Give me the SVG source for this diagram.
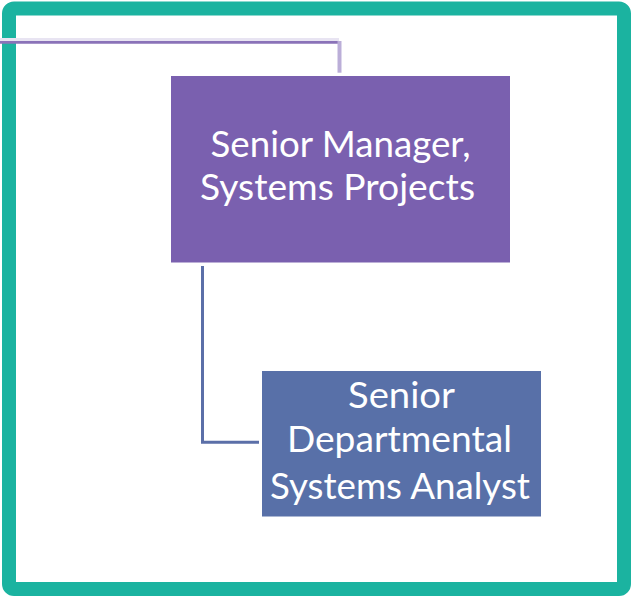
<svg xmlns="http://www.w3.org/2000/svg" width="631" height="597" viewBox="0 0 631 597">
  <style>
    .frame { fill: none; stroke: #1BB3A0; stroke-width: 14; }
    .lbl { font-family: Lato, "Open Sans", "Liberation Sans", sans-serif; font-size: 36px; fill: #FFFFFF; text-anchor: middle; }
    .conn { fill: none; stroke-linecap: butt; }
  </style>
  <rect x="0" y="0" width="631" height="597" fill="#FFFFFF"/>
  <rect class="frame" x="9" y="8.5" width="615" height="580.5" rx="5"/>
  <g id="connectors">
    <line class="conn" x1="0" y1="39.5" x2="339" y2="39.5" stroke="#E8E4F2" stroke-width="3"/>
    <line class="conn" x1="0" y1="42.3" x2="341" y2="42.3" stroke="#8A72B8" stroke-width="2.8"/>
    <line class="conn" x1="339.5" y1="41" x2="339.5" y2="72.7" stroke="#BBAED8" stroke-width="4"/>
    <polyline class="conn" points="202.5,266 202.5,442.3 259,442.3" stroke="#5B6FA8" stroke-width="3"/>
  </g>
  <g id="node-senior-manager">
    <rect x="171" y="76" width="339" height="186.5" fill="#7A60AF"/>
    <text class="lbl" x="340.5" y="157" textLength="260" lengthAdjust="spacingAndGlyphs">Senior Manager,</text>
    <text class="lbl" x="337.5" y="200" textLength="275" lengthAdjust="spacingAndGlyphs">Systems Projects</text>
  </g>
  <g id="node-senior-analyst">
    <rect x="262" y="371" width="279" height="145.5" fill="#5870A8"/>
    <text class="lbl" x="401.5" y="407.5" textLength="107" lengthAdjust="spacingAndGlyphs">Senior</text>
    <text class="lbl" x="399.5" y="452" textLength="225" lengthAdjust="spacingAndGlyphs">Departmental</text>
    <text class="lbl" x="400" y="499" textLength="260" lengthAdjust="spacingAndGlyphs">Systems Analyst</text>
  </g>
</svg>
